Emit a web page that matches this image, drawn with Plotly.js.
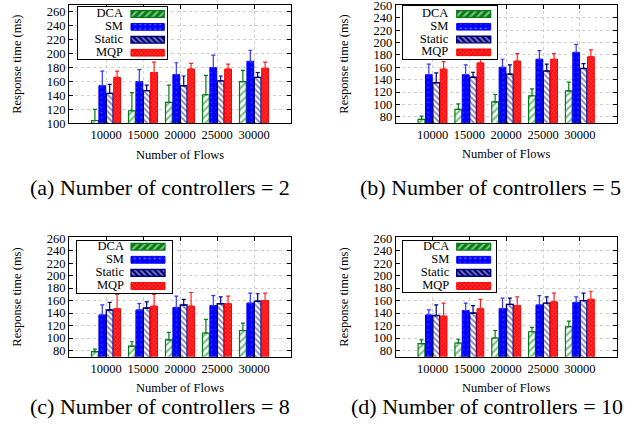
<!DOCTYPE html>
<html>
<head>
<meta charset="utf-8">
<script src="https://cdn.plot.ly/plotly-3.0.1.min.js"></script>
<style>html,body{margin:0;padding:0;background:#fff;}#chart{width:641px;height:438px;}</style>
</head>
<body>
<div id="chart"></div>
<script>
// ---- data ----
const flows = ["10000", "15000", "20000", "25000", "30000"];
const seriesNames = ["DCA", "SM", "Static", "MQP"];

// (a) controllers = 2
const dcaA = [104, 118, 130, 141, 160];
const dcaErrA = [16, 26, 25, 28, 16];
const smA = [154, 160, 170, 180, 189];
const smErrA = [21, 17, 17, 18, 16];
const staticA = [143, 147, 154, 161, 166];
const staticErrA = [13, 8, 14, 7, 7];
const mqpA = [166, 173, 178, 178, 179];
const mqpErrA = [9, 15, 8, 7, 9];

// (b) controllers = 5
const dcaB = [76, 92, 104, 114, 122];
const dcaErrB = [5, 9, 12, 11, 14];
const smB = [148, 148, 160, 173, 184];
const smErrB = [17, 16, 13, 14, 13];
const staticB = [135, 144, 149, 154, 158];
const staticErrB = [16, 8, 15, 11, 8];
const mqpB = [157, 167, 170, 173, 177];
const mqpErrB = [12, 21, 12, 9, 11];

// (c) controllers = 8
const dcaC = [78, 87, 97, 108, 112];
const dcaErrC = [4, 7, 12, 22, 12];
const smC = [137, 145, 149, 152, 156];
const smErrC = [16, 10, 18, 16, 16];
const staticC = [145, 148, 153, 155, 159];
const staticErrC = [12, 10, 9, 11, 12];
const mqpC = [147, 151, 151, 155, 160];
const mqpErrC = [23, 19, 22, 12, 12];

// (d) controllers = 10
const dcaD = [91, 92, 100, 110, 118];
const dcaErrD = [6, 6, 12, 7, 9];
const smD = [137, 144, 147, 153, 157];
const smErrD = [8, 12, 17, 15, 9];
const staticD = [136, 140, 154, 156, 160];
const staticErrD = [17, 12, 10, 10, 12];
const mqpD = [135, 147, 152, 158, 162];
const mqpErrD = [21, 15, 14, 14, 13];

const panelTitles = ["(a) Number of controllers = 2", "(b) Number of controllers = 5",
                     "(c) Number of controllers = 8", "(d) Number of controllers = 10"];

// ---- styles ----
const FONT = '"Liberation Serif", "Times New Roman", Times, serif';
const styles = {
  DCA:    {color: "#007d10", shape: "/",  fg: "#007d10", bg: "#ffffff", size: 5, sol: 0.42, err: "#007d10", lw: 1.2},
  SM:     {color: "#0000ff", shape: ".",  fg: "#6a6aff", bg: "#0000ff", size: 5, sol: 0.12, err: "#3535ff", lw: 1},
  Static: {color: "#00007a", shape: "\\", fg: "#00007a", bg: "#ffffff", size: 4, sol: 0.45, err: "#00007a", lw: 1.4},
  MQP:    {color: "#ff0000", shape: "x",  fg: "#ff9a9a", bg: "#ff1010", size: 3, sol: 0.3,  err: "#ff2020", lw: 1}
};

const panels = [
  {vals: [dcaA, smA, staticA, mqpA], errs: [dcaErrA, smErrA, staticErrA, mqpErrA], yr: [100, 270]},
  {vals: [dcaB, smB, staticB, mqpB], errs: [dcaErrB, smErrB, staticErrB, mqpErrB], yr: [70, 260.6]},
  {vals: [dcaC, smC, staticC, mqpC], errs: [dcaErrC, smErrC, staticErrC, mqpErrC], yr: [70, 261.5]},
  {vals: [dcaD, smD, staticD, mqpD], errs: [dcaErrD, smErrD, staticErrD, mqpErrD], yr: [70, 261.5]}
];

const W = 641, H = 438;
const px = v => v / W, py = v => 1 - v / H;
// plot areas in pixels [x0, x1, ytop, ybottom]
const areas = [
  [69, 291, 5, 123.3],
  [395.7, 616.7, 5, 123],
  [69, 291, 237.3, 356.7],
  [395.7, 616.7, 237.3, 356.7]
];
// legend geometry in pixels
const legBoxes = [
  [77.7, 166.7, 6.7, 59.3],
  [403.3, 497.3, 6, 59],
  [77.3, 172.3, 241, 292.7],
  [402.7, 495.7, 240.7, 292.3]
];
const legPatch = [[131, 164.3], [456.7, 490.7], [131, 165], [456.7, 490.7]];
const legLabelEnd = [123, 448.3, 124, 449.3];
const legFirstRow = [14, 14, 246.7, 246.7];
const legRowGap = [12.9, 12.77, 13.1, 13.1];
const capPos = [[160, 187], [490, 187], [160, 406], [487, 406]];

const traces = [];
const layout = {
  width: W, height: H,
  margin: {l: 0, r: 0, t: 0, b: 0},
  paper_bgcolor: "#ffffff", plot_bgcolor: "#ffffff",
  showlegend: false,
  barmode: "group", bargap: 0.2, bargroupgap: 0.08,
  font: {family: FONT, size: 12.5, color: "#000"},
  annotations: []
};

panels.forEach((p, i) => {
  const n = i + 1;
  const xa = n === 1 ? "x" : "x" + n, ya = n === 1 ? "y" : "y" + n;
  const a = areas[i];
  seriesNames.forEach((name, k) => {
    const s = styles[name];
    traces.push({
      type: "bar", name: name, x: flows, y: p.vals[k], xaxis: xa, yaxis: ya,
      marker: {color: s.color, line: {color: s.color, width: s.lw},
               pattern: {shape: s.shape, fgcolor: s.fg, bgcolor: s.bg, size: s.size, solidity: s.sol, fillmode: "overlay"}},
      error_y: {type: "data", symmetric: false, array: p.errs[k], arrayminus: p.errs[k].map(() => 0),
                color: s.err, thickness: 1.2, width: 2}
    });
  });
  layout["xaxis" + (n === 1 ? "" : n)] = {
    domain: [px(a[0]), px(a[1])], anchor: ya, type: "category", range: [-1, 5],
    showline: true, mirror: "ticks", linecolor: "#000", linewidth: 1,
    ticks: "inside", ticklen: 4, tickcolor: "#000",
    showgrid: true, gridcolor: "#cfcfcf", griddash: "3px,3px", gridwidth: 1,
    tickfont: {family: FONT, size: 12.5}, ticklabeloverflow: "allow",
    title: {text: "Number of Flows", font: {family: FONT, size: 12.5}, standoff: 8},
    fixedrange: true, zeroline: false
  };
  layout["yaxis" + (n === 1 ? "" : n)] = {
    domain: [py(a[3]), py(a[2])], anchor: xa, range: p.yr, dtick: 20, tick0: 0,
    showline: true, mirror: "ticks", linecolor: "#000", linewidth: 1,
    ticks: "inside", ticklen: 4, tickcolor: "#000",
    showgrid: true, gridcolor: "#cfcfcf", griddash: "3px,3px", gridwidth: 1,
    tickfont: {family: FONT, size: 12.5}, ticklabeloverflow: "allow",
    title: {text: "Response time (ms)", font: {family: FONT, size: 12.5}, standoff: 22},
    fixedrange: true, zeroline: false
  };

  // legend: its own small subplot (white background, black frame)
  const m = n + 4;
  const b = legBoxes[i], lp = legPatch[i];
  const bw = b[1] - b[0];
  const r0 = legFirstRow[i], g = legRowGap[i];
  const yTop = (b[2] - r0) / g, yBot = (b[3] - r0) / g;
  traces.push({
    type: "bar", orientation: "h", xaxis: "x" + m, yaxis: "y" + m,
    y: seriesNames, x: seriesNames.map(() => (lp[1] - lp[0]) / bw),
    base: (lp[0] - b[0]) / bw, width: 0.52, hoverinfo: "skip",
    marker: {
      color: seriesNames.map(nm => styles[nm].color),
      line: {color: seriesNames.map(nm => styles[nm].color), width: seriesNames.map(nm => styles[nm].lw)},
      pattern: {
        shape: seriesNames.map(nm => styles[nm].shape),
        fgcolor: seriesNames.map(nm => styles[nm].fg),
        bgcolor: seriesNames.map(nm => styles[nm].bg),
        size: seriesNames.map(nm => styles[nm].size),
        solidity: seriesNames.map(nm => styles[nm].sol),
        fillmode: "overlay"
      }
    }
  });
  traces.push({
    type: "scatter", mode: "text", xaxis: "x" + m, yaxis: "y" + m,
    y: seriesNames, x: seriesNames.map(() => (legLabelEnd[i] - b[0]) / bw),
    text: seriesNames, textposition: "middle left", cliponaxis: false, hoverinfo: "skip",
    textfont: {family: FONT, size: 12.5, color: "#000"}
  });
  layout["xaxis" + m] = {domain: [px(b[0]), px(b[1])], anchor: "y" + m, range: [0, 1],
    showline: true, mirror: true, linecolor: "#000", linewidth: 1,
    showgrid: false, zeroline: false, showticklabels: false, ticks: "", fixedrange: true};
  layout["yaxis" + m] = {domain: [py(b[3]), py(b[2])], anchor: "x" + m, type: "category",
    categoryarray: seriesNames, range: [yBot, yTop],
    showline: true, mirror: true, linecolor: "#000", linewidth: 1,
    showgrid: false, zeroline: false, showticklabels: false, ticks: "", fixedrange: true};

  layout.annotations.push({
    xref: "paper", yref: "paper", x: px(capPos[i][0]), y: py(capPos[i][1]),
    xanchor: "center", yanchor: "middle", showarrow: false,
    text: panelTitles[i], font: {family: FONT, size: 22, color: "#000"}
  });
});

Plotly.newPlot("chart", traces, layout, {displayModeBar: false});
</script>
</body>
</html>
